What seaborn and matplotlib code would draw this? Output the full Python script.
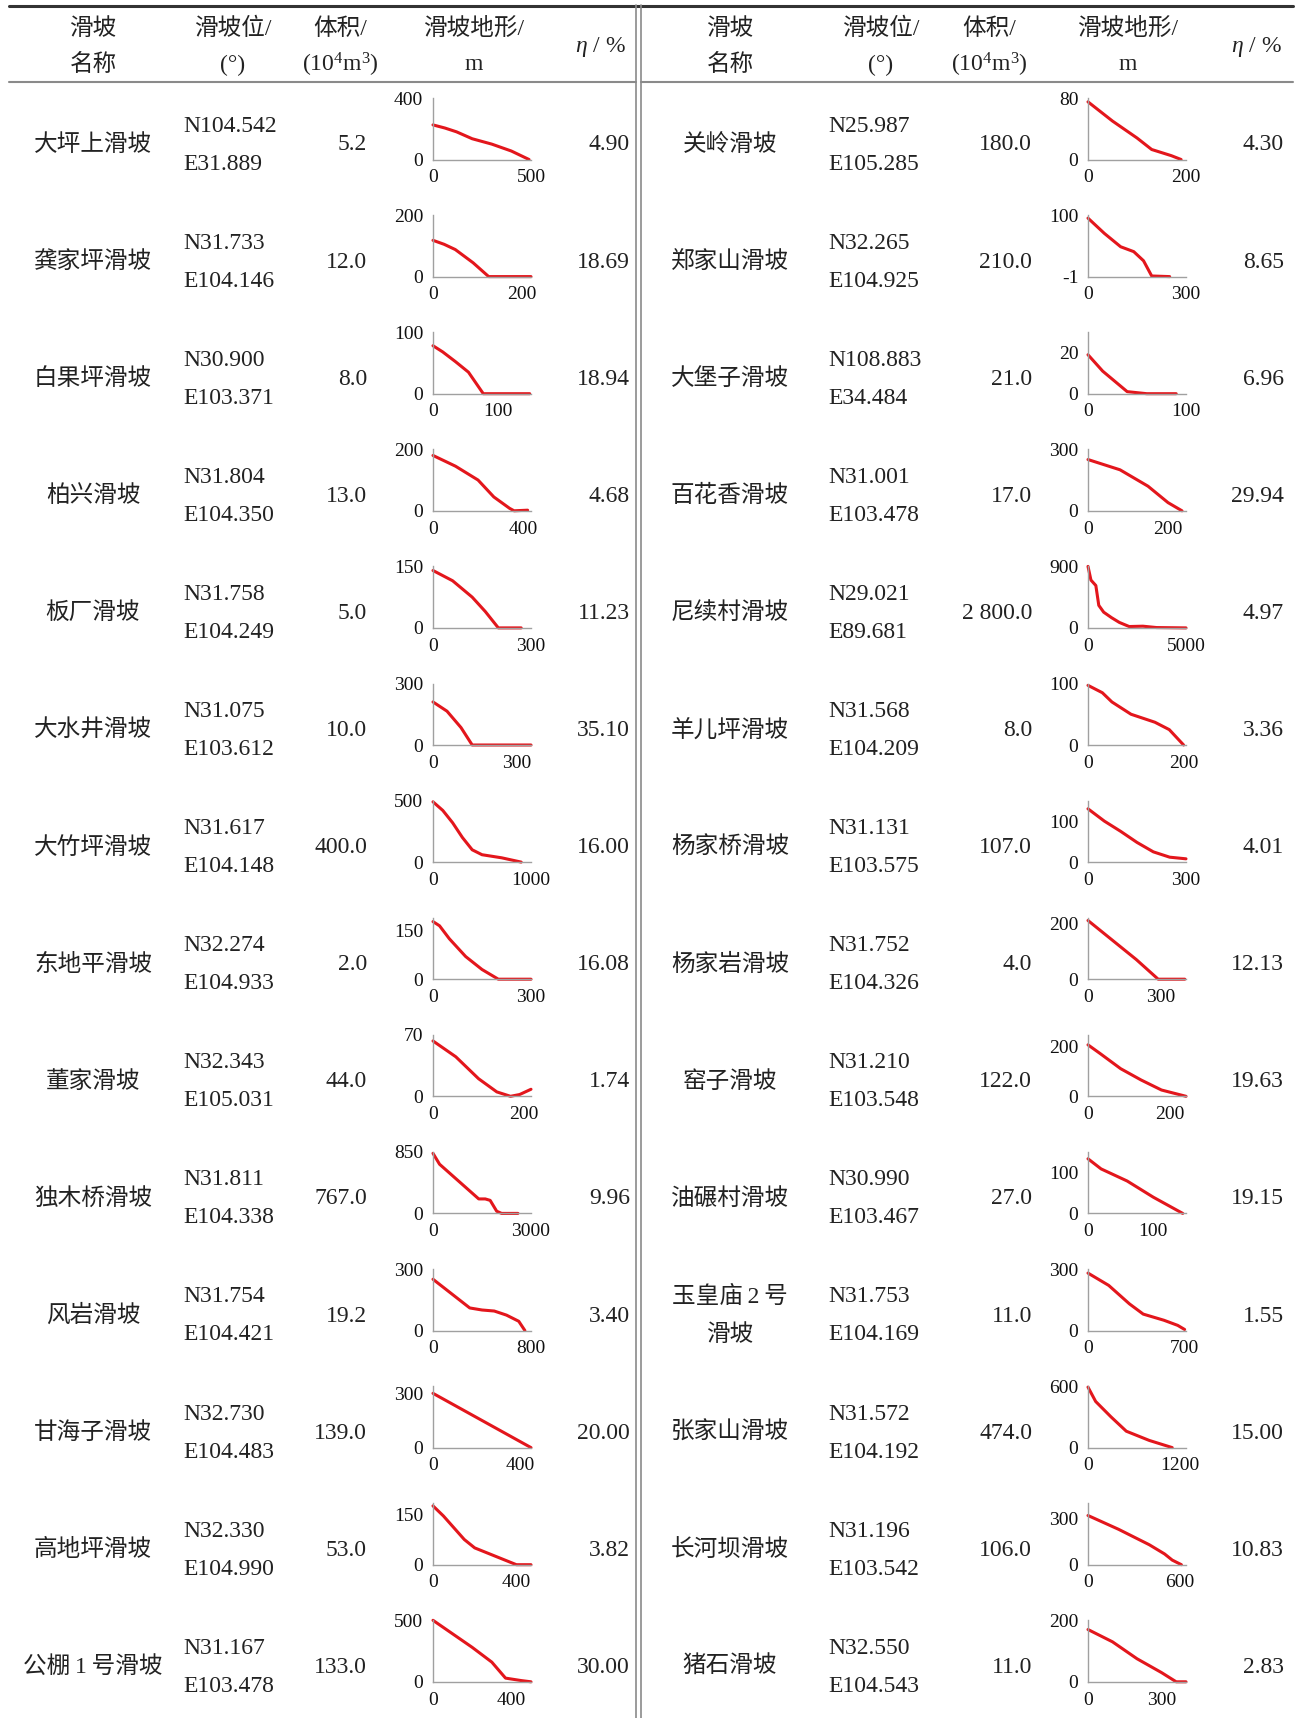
import numpy as np
import pandas as pd
import matplotlib
matplotlib.use("Agg")
import matplotlib.pyplot as plt
import seaborn as sns

sns.set_style("white")
plt.rcParams['font.family'] = ['Liberation Serif', 'Noto Sans CJK SC', 'DejaVu Sans']
plt.rcParams['mathtext.fontset'] = 'custom'
plt.rcParams['mathtext.rm'] = 'Liberation Serif'
plt.rcParams['mathtext.it'] = 'Liberation Serif:italic'
plt.rcParams['axes.unicode_minus'] = False

# ---- table data: left half ----
names_L = ['大坪上滑坡', '龚家坪滑坡', '白果坪滑坡', '柏兴滑坡', '板厂滑坡', '大水井滑坡', '大竹坪滑坡',
           '东地平滑坡', '董家滑坡', '独木桥滑坡', '风岩滑坡', '甘海子滑坡', '高地坪滑坡', '公棚\u20091\u2009号滑坡']
N_L = ['N104.542', 'N31.733', 'N30.900', 'N31.804', 'N31.758', 'N31.075', 'N31.617',
       'N32.274', 'N32.343', 'N31.811', 'N31.754', 'N32.730', 'N32.330', 'N31.167']
E_L = ['E31.889', 'E104.146', 'E103.371', 'E104.350', 'E104.249', 'E103.612', 'E104.148',
       'E104.933', 'E105.031', 'E104.338', 'E104.421', 'E104.483', 'E104.990', 'E103.478']
vol_L = [5.2, 12.0, 8.0, 13.0, 5.0, 10.0, 400.0, 2.0, 44.0, 767.0, 19.2, 139.0, 53.0, 133.0]
eta_L = [4.90, 18.69, 18.94, 4.68, 11.23, 35.10, 16.00, 16.08, 1.74, 9.96, 3.40, 20.00, 3.82, 30.00]

# ---- table data: right half ----
names_R = ['关岭滑坡', '郑家山滑坡', '大堡子滑坡', '百花香滑坡', '尼续村滑坡', '羊儿坪滑坡', '杨家桥滑坡',
           '杨家岩滑坡', '窑子滑坡', '油碾村滑坡', '玉皇庙\u20092\u2009号\n滑坡', '张家山滑坡', '长河坝滑坡', '猪石滑坡']
N_R = ['N25.987', 'N32.265', 'N108.883', 'N31.001', 'N29.021', 'N31.568', 'N31.131',
       'N31.752', 'N31.210', 'N30.990', 'N31.753', 'N31.572', 'N31.196', 'N32.550']
E_R = ['E105.285', 'E104.925', 'E34.484', 'E103.478', 'E89.681', 'E104.209', 'E103.575',
       'E104.326', 'E103.548', 'E103.467', 'E104.169', 'E104.192', 'E103.542', 'E104.543']
vol_R = [180.0, 210.0, 21.0, 17.0, 2800.0, 8.0, 107.0, 4.0, 122.0, 27.0, 11.0, 474.0, 106.0, 11.0]
eta_R = [4.30, 8.65, 6.96, 29.94, 4.97, 3.36, 4.01, 12.13, 19.63, 19.15, 1.55, 15.00, 10.83, 2.83]

# ---- slope profiles (distance m, elevation m) ----
prof_x_L = [
    [0, 60, 120, 200, 300, 400, 490],
    [0, 25, 50, 90, 125, 220],
    [0, 15, 35, 55, 78, 150],
    [0, 100, 200, 270, 340, 360, 420],
    [0, 60, 120, 160, 200, 270],
    [0, 50, 100, 140, 350],
    [0, 100, 200, 300, 400, 500, 700, 900],
    [0, 20, 50, 100, 150, 200, 300],
    [0, 50, 100, 140, 170, 190, 215],
    [0, 200, 600, 1000, 1400, 1600, 1750, 1950, 2100, 2600],
    [0, 150, 300, 400, 500, 600, 700, 750],
    [0, 450],
    [0, 50, 100, 150, 200, 300, 400, 470],
    [0, 100, 200, 300, 370, 450, 500],
]
prof_y_L = [
    [225, 205, 180, 135, 100, 55, 0],
    [118, 105, 88, 45, 0, 0],
    [78, 68, 52, 35, 0, 0],
    [180, 145, 100, 45, 8, 0, 2],
    [140, 115, 75, 40, 0, 0],
    [210, 165, 85, 0, 0],
    [490, 420, 320, 200, 100, 60, 35, 0],
    [178, 165, 125, 70, 30, 0, 0],
    [63, 45, 20, 5, 0, 2, 8],
    [830, 680, 520, 360, 200, 200, 180, 30, 0, 0],
    [250, 180, 110, 100, 95, 75, 45, 0],
    [300, 0],
    [175, 145, 110, 75, 50, 25, 0, 0],
    [500, 390, 280, 160, 30, 10, 0],
]
prof_x_R = [
    [0, 50, 100, 130, 170, 190],
    [0, 50, 100, 140, 170, 195, 250],
    [0, 15, 30, 40, 60, 90],
    [0, 80, 150, 200, 235],
    [0, 150, 400, 550, 800, 1200, 1600, 2100, 2800, 3500, 5000],
    [0, 30, 50, 90, 140, 170, 200],
    [0, 50, 100, 150, 200, 250, 300],
    [0, 100, 200, 290, 400],
    [0, 30, 80, 130, 180, 240],
    [0, 20, 60, 100, 145],
    [0, 150, 300, 400, 550, 650, 700],
    [0, 100, 300, 500, 800, 1100],
    [0, 200, 400, 500, 550, 610],
    [0, 100, 200, 300, 360, 400],
]
prof_y_R = [
    [75, 50, 28, 13, 5, 0],
    [95, 70, 48, 40, 25, 0, -1],
    [19, 11, 5, 1, 0, 0],
    [250, 200, 120, 40, 0],
    [900, 700, 620, 330, 230, 150, 80, 20, 25, 5, 0],
    [97, 85, 70, 50, 37, 25, 0],
    [130, 100, 75, 48, 25, 12, 8],
    [210, 140, 70, 0, 0],
    [205, 170, 110, 65, 25, 0],
    [135, 110, 80, 40, 0],
    [280, 220, 130, 80, 50, 25, 5],
    [590, 450, 300, 160, 70, 0],
    [320, 230, 130, 70, 30, 0],
    [170, 130, 75, 30, 0, 0],
]

# axis ranges / tick labels of the small profile charts
ytop_L = [400, 200, 100, 200, 150, 300, 500, 190, 70, 850, 300, 340, 183, 500]
ylab_L = [400, 200, 100, 200, 150, 300, 500, 150, 70, 850, 300, 300, 150, 500]
ybot_L = [0] * 14
xlim_L = [500, 220, 152, 435, 300, 350, 1000, 300, 215, 3000, 800, 450, 470, 500]
xlab_L = [500, 200, 100, 400, 300, 300, 1000, 300, 200, 3000, 800, 400, 400, 400]

ytop_R = [80, 100, 30, 300, 900, 100, 150, 220, 245, 152, 300, 600, 400, 200]
ylab_R = [80, 100, 20, 300, 900, 100, 100, 200, 200, 100, 300, 600, 300, 200]
ybot_R = [0, -1, 0, 0, 0, 0, 0, 0, 0, 0, 0, 0, 0, 0]
xlim_R = [200, 300, 100, 245, 5000, 205, 300, 405, 240, 150, 710, 1280, 640, 400]
xlab_R = [200, 300, 100, 200, 5000, 200, 300, 300, 200, 100, 700, 1200, 600, 300]

W, H = 1297, 1718
fig = plt.figure(figsize=(W / 100, H / 100), dpi=100)


def fx(x):
    return x / W


def fy(y):
    return 1 - y / H


row_y = [142 + 117.1 * i for i in range(14)]
TXT = 17
DY = 3  # small downward shift of table text
GRAY = '#8a8a8a'
INK = '#222222'

panels = [
    dict(names=names_L, N=N_L, E=E_L, vol=vol_L, eta=eta_L, px=prof_x_L, py=prof_y_L,
         ytop=ytop_L, ylab=ylab_L, ybot=ybot_L, xlim=xlim_L, xlab=xlab_L,
         c_name=93, c_coord=183, c_vol=367, c_ax=433, c_eta=630,
         h_cols=[93, 233, 340, 474], h_eta=600),
    dict(names=names_R, N=N_R, E=E_R, vol=vol_R, eta=eta_R, px=prof_x_R, py=prof_y_R,
         ytop=ytop_R, ylab=ylab_R, ybot=ybot_R, xlim=xlim_R, xlab=xlab_R,
         c_name=730, c_coord=828, c_vol=1032, c_ax=1088, c_eta=1284,
         h_cols=[730, 881, 989, 1128], h_eta=1256),
]

head1 = ['滑坡', '滑坡位/', '体积/', '滑坡地形/']
head2 = ['名称', '(°)', r'(10$^{\mathrm{4}}$m$^{\mathrm{3}}$)', 'm']


def put(x, y, s, ha='center'):
    fig.text(fx(x), fy(y + DY), s, ha=ha, va='center', fontsize=TXT, color=INK)


for p in panels:
    for cx, t1, t2 in zip(p['h_cols'], head1, head2):
        put(cx, 26, t1)
        put(cx, 62, t2)
    put(p['h_eta'], 44, r'$\eta$ / %')

    for i, cy in enumerate(row_y):
        lines = p['names'][i].split('\n')
        if len(lines) == 1:
            put(p['c_name'], cy, lines[0])
        else:
            put(p['c_name'], cy - 19, lines[0])
            put(p['c_name'], cy + 19, lines[1])
        put(p['c_coord'], cy - 19, p['N'][i], ha='left')
        put(p['c_coord'], cy + 19, p['E'][i], ha='left')
        vs = f"{p['vol'][i]:,.1f}".replace(',', ' ')
        put(p['c_vol'], cy, vs, ha='right')
        put(p['c_eta'], cy, f"{p['eta'][i]:.2f}", ha='right')

        # small profile chart
        bottom = cy + 17.5
        ax = fig.add_axes([fx(p['c_ax']), fy(bottom), 98 / W, 61.5 / H])
        ax.patch.set_alpha(0)
        df = pd.DataFrame({'x': p['px'][i], 'y': p['py'][i]})
        sns.lineplot(data=df, x='x', y='y', ax=ax, color='#e3161c', linewidth=2.2,
                     sort=False, clip_on=False)
        ax.set_xlim(0, p['xlim'][i])
        ax.set_ylim(p['ybot'][i], p['ytop'][i])
        ax.set_xticks([0, p['xlab'][i]])
        ax.set_xticks([p['xlim'][i]], minor=True)
        ax.set_yticks([p['ybot'][i], p['ylab'][i]])
        ax.set_xlabel('')
        ax.set_ylabel('')
        for side in ['top', 'right']:
            ax.spines[side].set_visible(False)
        for side in ['left', 'bottom']:
            ax.spines[side].set_color('#a0a0a0')
            ax.spines[side].set_linewidth(1.0)
        ax.tick_params(axis='both', which='both', length=3, width=0.9, color='#a0a0a0',
                       labelsize=14, labelcolor='#111', direction='out')
        ax.tick_params(axis='y', pad=4)
        ax.tick_params(axis='x', pad=4)
        ax.tick_params(axis='x', which='minor', length=3)

# table rules
fig.add_artist(plt.Line2D([fx(9), fx(1293)], [fy(5.5), fy(5.5)], transform=fig.transFigure,
                          color='#333', lw=2.2))
for x0, x1 in [(9, 636), (641, 1293)]:
    fig.add_artist(plt.Line2D([fx(x0), fx(x1)], [fy(82), fy(82)], transform=fig.transFigure,
                              color=GRAY, lw=1.5))
for xv in [636, 641]:
    fig.add_artist(plt.Line2D([fx(xv), fx(xv)], [fy(5), fy(1718)], transform=fig.transFigure,
                              color=GRAY, lw=1.2))

fig.savefig('out.png', dpi=100, facecolor='white')
